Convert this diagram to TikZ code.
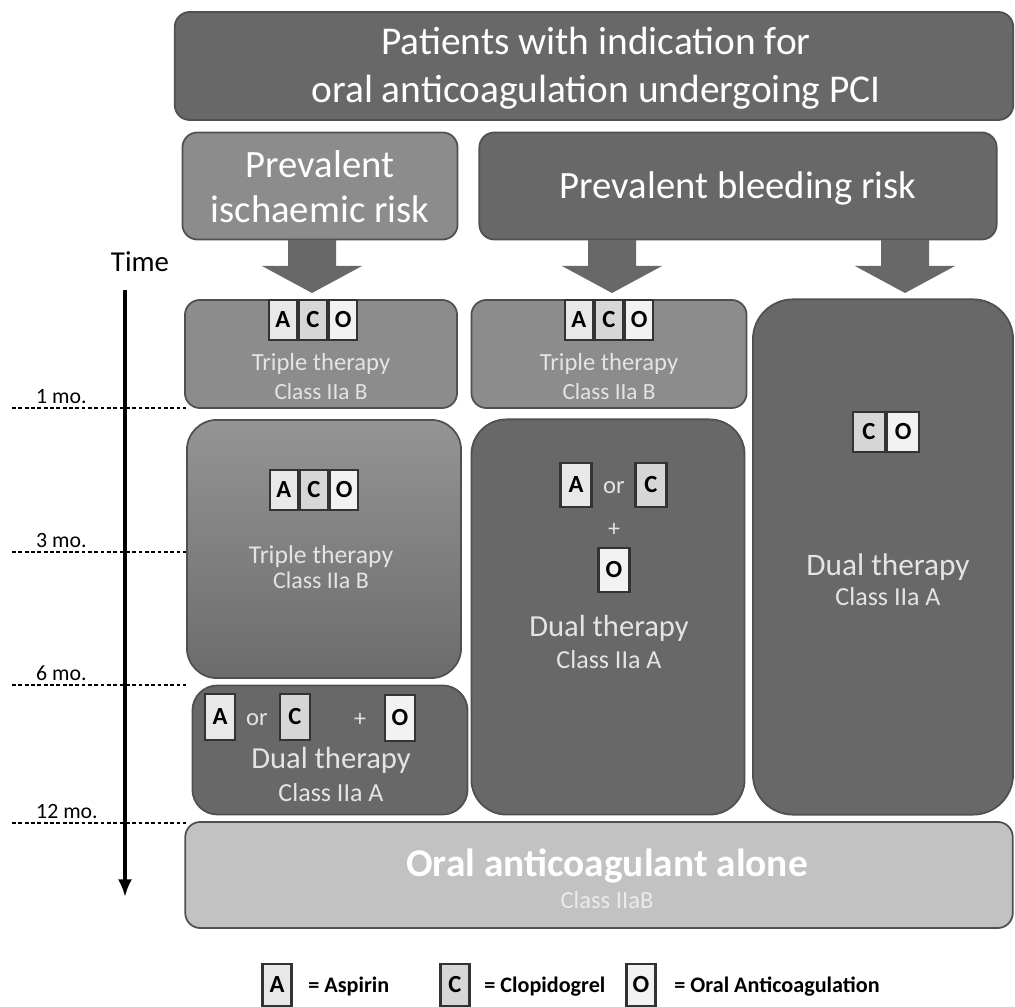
\documentclass[tikz,border=0pt]{standalone}
\usepackage{fontspec}
\setmainfont{Carlito}
\usetikzlibrary{positioning,arrows.meta}

\definecolor{darkbox}{RGB}{104,104,104}
\definecolor{midbox}{RGB}{140,140,140}
\definecolor{lightbox}{RGB}{194,194,194}
\definecolor{rim}{RGB}{80,80,80}
\definecolor{txtlight}{RGB}{228,228,228}
\definecolor{drugA}{RGB}{232,232,232}
\definecolor{drugC}{RGB}{214,214,214}
\definecolor{drugO}{RGB}{242,242,242}

\tikzset{
  panel/.style={draw=rim, line width=0.5pt, rounded corners=0.15cm, inner sep=0pt},
  drug/.style={draw=black!80, line width=0.6pt, minimum width=0.28cm, minimum height=0.4cm,
    inner sep=0pt, font=\fontsize{7}{7}\selectfont\bfseries},
  head/.style={text=white, align=center, font=\fontsize{11.2}{13.7}\selectfont},
  big/.style={text=txtlight, font=\fontsize{8.7}{9}\selectfont},
  small/.style={text=txtlight, font=\fontsize{6.8}{7}\selectfont},
  month/.style={font=\fontsize{6.2}{6}\selectfont},
  legend/.style={font=\fontsize{6.3}{7}\selectfont\bfseries, anchor=base west},
}

\begin{document}
\begin{tikzpicture}[x=0.01cm, y=-0.01cm]
  \useasboundingbox (0,0) rectangle (1015,1007);

  % headers
  \node[panel, fill=darkbox, minimum width=8.38cm, minimum height=1.08cm] (top) at (594,66) {};
  \node[head] (toptxt) at (596,68) {Patients with indication for\\oral anticoagulation undergoing PCI};
  \node[panel, fill=midbox, minimum width=2.75cm, minimum height=1.07cm] (isch) at (320,186) {};
  \node[head, font=\fontsize{11}{12.8}\selectfont] (ischtxt) at (320,187) {Prevalent\\ischaemic risk};
  \node[panel, fill=darkbox, minimum width=5.17cm, minimum height=1.07cm] (bleed) at (738,186) {};
  \node[head, font=\fontsize{11}{12.8}\selectfont] (bleedtxt) at (738,188) {Prevalent bleeding risk};

  % block arrows
  \foreach \ax in {312,612,905}
    \fill[darkbox] (\ax-24,240) -- (\ax+24,240) -- (\ax+24,266) -- (\ax+50,266)
      -- (\ax,293) -- (\ax-50,266) -- (\ax-24,266) -- cycle;

  % time axis
  \node[font=\fontsize{8.2}{9}\selectfont] (time) at (140,262) {Time};
  \coordinate (t0) at (125,290);
  \coordinate (t1) at (125,897);
  \draw[line width=1pt, -{Latex[length=5pt,width=4pt]}] (t0) -- (t1);
  \foreach \yy/\lab in {408/1 mo., 552/3 mo., 685/6 mo., 823/12 mo.}
  {
    \draw[line width=0.55pt, dash pattern=on 1.1pt off 0.7pt] (12,\yy) -- (186,\yy);
    \node[month, anchor=south west, inner sep=1pt] at (32,\yy) {\lab};
  }

  % ischaemic column
  \node[panel, fill=midbox, minimum width=2.72cm, minimum height=1.08cm] (tri1) at (321,354) {};
  \node[drug, fill=drugC] (tri1c) at (313,320) {C};
  \node[drug, fill=drugA, left=0pt of tri1c] (tri1a) {A};
  \node[drug, fill=drugO, right=0pt of tri1c] (tri1o) {O};
  \node[small, font=\fontsize{7}{7}\selectfont] (tri1t) at (321,364) {Triple therapy};
  \node[small, font=\fontsize{6.6}{7}\selectfont] (tri1k) at (321,392) {Class IIa B};

  \node[panel, rounded corners=0.3cm, top color={rgb,255:red,148;green,148;blue,148},
    bottom color={rgb,255:red,108;green,108;blue,108}, minimum width=2.74cm, minimum height=2.58cm] (tri2) at (324,549) {};
  \node[drug, fill=drugC] (tri2c) at (314,490) {C};
  \node[drug, fill=drugA, left=0pt of tri2c] (tri2a) {A};
  \node[drug, fill=drugO, right=0pt of tri2c] (tri2o) {O};
  \node[small, font=\fontsize{7.3}{7}\selectfont] (tri2t) at (321,557) {Triple therapy};
  \node[small] (tri2k) at (321,580) {Class IIa B};

  \node[panel, rounded corners=0.25cm, fill=darkbox, minimum width=2.75cm, minimum height=1.29cm] (dual1) at (330,750) {};
  \node[drug, fill=drugA, minimum width=0.3cm, minimum height=0.46cm] (dual1a) at (220,717) {A};
  \node[small, font=\fontsize{7}{7}\selectfont] (dual1or) at (257,720) {or};
  \node[drug, fill=drugC, minimum width=0.3cm, minimum height=0.46cm] (dual1c) at (295,717) {C};
  \node[small] (dual1p) at (360,720) {+};
  \node[drug, fill=drugO, minimum width=0.3cm, minimum height=0.46cm] (dual1o) at (400,718) {O};
  \node[big] (dual1t) at (331,760) {Dual therapy};
  \node[small, font=\fontsize{7.4}{7}\selectfont] (dual1k) at (331,793) {Class IIa A};

  % bleeding column
  \node[panel, fill=midbox, minimum width=2.75cm, minimum height=1.08cm] (tri3) at (609,354) {};
  \node[drug, fill=drugC] (tri3c) at (609,320) {C};
  \node[drug, fill=drugA, left=0pt of tri3c] (tri3a) {A};
  \node[drug, fill=drugO, right=0pt of tri3c] (tri3o) {O};
  \node[small, font=\fontsize{7}{7}\selectfont] (tri3t) at (609,364) {Triple therapy};
  \node[small, font=\fontsize{6.6}{7}\selectfont] (tri3k) at (609,392) {Class IIa B};

  \node[panel, rounded corners=0.35cm, fill=darkbox, minimum width=2.73cm, minimum height=3.95cm] (dual2) at (608,617) {};
  \node[drug, fill=drugA, minimum width=0.31cm, minimum height=0.44cm] (dual2a) at (576,485) {A};
  \node[small, font=\fontsize{7}{7}\selectfont] (dual2or) at (614,488) {or};
  \node[drug, fill=drugC, minimum width=0.31cm, minimum height=0.44cm] (dual2c) at (651,485) {C};
  \node[small] (dual2p) at (614,530) {+};
  \node[drug, fill=drugO, minimum width=0.31cm, minimum height=0.44cm] (dual2o) at (614,570) {O};
  \node[big] (dual2t) at (609,628) {Dual therapy};
  \node[small, font=\fontsize{7.4}{7}\selectfont] (dual2k) at (609,660) {Class IIa A};

  \node[panel, rounded corners=0.4cm, fill=darkbox, minimum width=2.6cm, minimum height=5.15cm] (dual3) at (883,557) {};
  \node[drug, fill=drugC, minimum width=0.32cm] (dual3c) at (869,432) {C};
  \node[drug, fill=drugO, minimum width=0.32cm, right=0pt of dual3c] (dual3o) {O};
  \node[big, font=\fontsize{8.9}{9}\selectfont] (dual3t) at (888,567) {Dual therapy};
  \node[small, font=\fontsize{7.4}{7}\selectfont] (dual3k) at (888,597) {Class IIa A};

  % after 12 months
  \node[panel, fill=lightbox, minimum width=8.27cm, minimum height=1.06cm] (oac) at (599,875) {};
  \node[text=white, font=\fontsize{11.2}{12}\selectfont\bfseries] (oact) at (607,866) {Oral anticoagulant alone};
  \node[text=white!92!black, font=\fontsize{7}{7}\selectfont] (oack) at (607,900) {Class IIaB};

  % legend
  \node[drug, fill=drugA, minimum width=0.29cm, minimum height=0.42cm] (lega) at (277,985) {A};
  \node[legend] (legat) at (296,993) {= Aspirin};
  \node[drug, fill=drugC, minimum width=0.29cm, minimum height=0.42cm] (legc) at (455,985) {C};
  \node[legend] (legct) at (472,993) {= Clopidogrel};
  \node[drug, fill=drugO, minimum width=0.29cm, minimum height=0.42cm] (lego) at (641,985) {O};
  \node[legend] (legot) at (662,993) {= Oral Anticoagulation};
\end{tikzpicture}
\end{document}
